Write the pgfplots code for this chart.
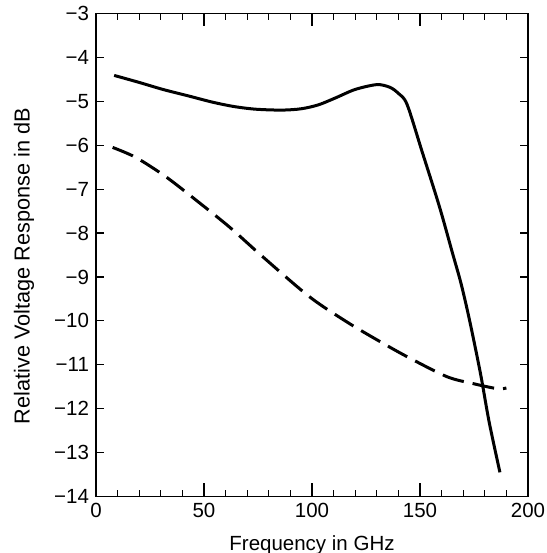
\documentclass[border=0pt]{standalone}
\usepackage{fontspec}
\setmainfont{Liberation Sans}
\usepackage{pgfplots}
\pgfplotsset{compat=1.18}
\begin{document}
\fontsize{20.5}{24}\selectfont
\begin{tikzpicture}
\begin{axis}[
  name=ax,
  scale only axis,
  width=432pt, height=483pt,
  xmin=0, xmax=200, ymin=-14, ymax=-3,
  xtick={0,50,100,150,200},
  minor xtick={10,20,30,40,60,70,80,90,110,120,130,140,160,170,180,190},
  ytick={-14,-13,-12,-11,-10,-9,-8,-7,-6,-5,-4,-3},
  yticklabels={−14,−13,−12,−11,−10,−9,−8,−7,−6,−5,−4,−3},
  xticklabels={0,50,100,150,200},
  extra x ticks={50,100,150},
  extra x tick labels={},
  extra x tick style={major tick length=13pt},
  tick align=inside,
  major tick length=8pt,
  minor tick length=7pt,
  tick style={black, line width=1.2pt},
  axis line style={line width=1.5pt},
  ticklabel style={font=\fontsize{20.5}{24}\selectfont},
  label style={font=\fontsize{20.5}{24}\selectfont},
  xlabel={Frequency in GHz},
  ylabel={Relative Voltage Response in dB},
  xlabel style={at={(rel axis cs:0.5,0)}, anchor=base, yshift=-53.5pt},
  ylabel style={at={(axis description cs:-0.1667,0.477)}, anchor=center, font=\fontsize{21.7}{25}\selectfont},
]
\addplot[black, line width=3pt, smooth, tension=0.5] coordinates {
(8.4,-4.41) (20,-4.57) (31,-4.73) (43,-4.88) (54,-5.02) (64,-5.12) (74,-5.18) (86,-5.20) (95,-5.17) (103,-5.08) (111,-4.92) (120,-4.73) (130,-4.62) (136,-4.68) (140,-4.82) (144,-5.07) (151,-6.15) (159,-7.40) (165,-8.45) (169,-9.15) (173,-10.0) (178,-11.2) (182,-12.3) (187,-13.45)
};
\addplot[black, line width=3pt, smooth, tension=0.5, dash pattern=on 22pt off 9pt] coordinates {
(7.7,-6.05) (18.5,-6.28) (32.4,-6.72) (46.3,-7.25) (61.7,-7.86) (77.2,-8.54) (98.8,-9.45) (116,-10.02) (130,-10.43) (143.8,-10.81) (162.4,-11.27) (174.7,-11.43) (183,-11.52) (187,-11.55) (190,-11.53)
};
\end{axis}
\pgfresetboundingbox
\path ([xshift=-96pt,yshift=-56.5pt]ax.south west) rectangle ([xshift=18pt,yshift=13.5pt]ax.north east);
\end{tikzpicture}
\end{document}
